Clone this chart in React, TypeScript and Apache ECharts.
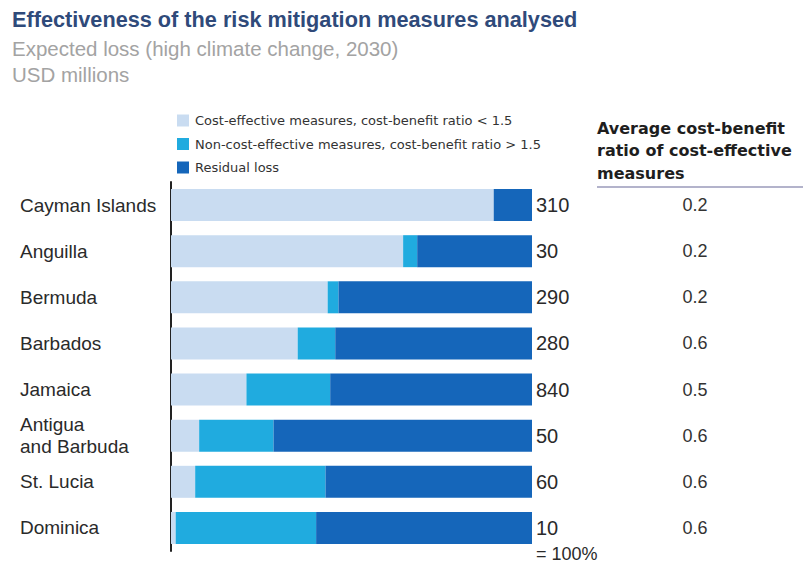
import React, { useEffect, useRef } from "react";
import * as echarts from "echarts";

const countries = ["Cayman Islands", "Anguilla", "Bermuda", "Barbados", "Jamaica", "Antigua\nand Barbuda", "St. Lucia", "Dominica"];
const costEffective = [89.4, 64.3, 43.4, 35.1, 20.9, 7.8, 6.7, 1.3];
const nonCostEffective = [0, 3.9, 3.0, 10.4, 23.2, 20.6, 36.1, 38.9];
const residualLoss = [10.6, 31.8, 53.6, 54.5, 55.9, 71.6, 57.2, 59.8];
const totals = ["310", "30", "290", "280", "840", "50", "60", "10"];
const avgRatio = ["0.2", "0.2", "0.2", "0.6", "0.5", "0.6", "0.6", "0.6"];
const seriesNames = [
  "Cost-effective measures, cost-benefit ratio < 1.5",
  "Non-cost-effective measures, cost-benefit ratio > 1.5",
  "Residual loss",
];

const FONT = "'Liberation Sans', Arial, sans-serif";
const WIDE = "'DejaVu Sans', Verdana, sans-serif";
const LIGHT = "#c9dcf1";
const CYAN = "#20abdf";
const DARK = "#1566ba";

export default function App() {
  const ref = useRef<HTMLDivElement>(null);
  useEffect(() => {
    if (!ref.current) return;
    const chart = echarts.init(ref.current, undefined, { renderer: "svg" });
    chart.setOption({
      animation: false,
      backgroundColor: "#ffffff",
      textStyle: { fontFamily: FONT },
      title: {
        text: "Effectiveness of the risk mitigation measures analysed",
        subtext: "Expected loss (high climate change, 2030)\nUSD millions",
        left: 7,
        top: 3,
        itemGap: 5,
        textStyle: { fontFamily: FONT, fontSize: 21.7, fontWeight: "bold", color: "#2f4a7a" },
        subtextStyle: { fontFamily: FONT, fontSize: 20.5, color: "#a3a3a3", lineHeight: 26 },
      },
      legend: {
        orient: "vertical",
        left: 172,
        top: 109,
        itemWidth: 12,
        itemHeight: 12,
        itemGap: 10.5,
        icon: "rect",
        selectedMode: false,
        data: seriesNames,
        textStyle: { fontFamily: WIDE, fontSize: 13, color: "#333333", padding: [0, 0, 0, 1] },
      },
      grid: { left: 171, right: 273, top: 182, bottom: 14, containLabel: false },
      xAxis: { type: "value", min: 0, max: 100, show: false },
      yAxis: [
        {
          type: "category",
          data: countries,
          inverse: true,
          axisLine: { show: true, lineStyle: { color: "#222222", width: 2 } },
          axisTick: { show: false },
          axisLabel: {
            align: "left",
            margin: 151,
            fontFamily: FONT,
            fontSize: 19,
            color: "#2a2a2a",
            lineHeight: 22,
          },
        },
        {
          type: "category",
          data: countries,
          inverse: true,
          position: "right",
          axisLine: { show: false },
          axisTick: { show: false },
          axisLabel: {
            align: "center",
            margin: 163,
            fontFamily: FONT,
            fontSize: 18,
            color: "#333333",
            formatter: (_v: string, i: number) => avgRatio[i],
          },
        },
      ],
      series: [
        { name: seriesNames[0], type: "bar", stack: "t", data: costEffective, barWidth: 32, itemStyle: { color: LIGHT } },
        { name: seriesNames[1], type: "bar", stack: "t", data: nonCostEffective, barWidth: 32, itemStyle: { color: CYAN } },
        {
          name: seriesNames[2],
          type: "bar",
          stack: "t",
          data: residualLoss,
          barWidth: 32,
          itemStyle: { color: DARK },
          label: {
            show: true,
            position: "right",
            distance: 4,
            fontFamily: FONT,
            fontSize: 20,
            color: "#2a2a2a",
            formatter: (p: any) => totals[p.dataIndex],
          },
        },
      ],
      graphic: [
        {
          type: "text",
          left: 597,
          top: 117,
          style: {
            text: "Average cost-benefit\nratio of cost-effective\nmeasures",
            font: `bold 16px ${WIDE}`,
            fill: "#1e1e1e",
            lineHeight: 22.5,
          },
        },
        {
          type: "line",
          shape: { x1: 597, y1: 187, x2: 803, y2: 187 },
          style: { stroke: "#b3b3cb", lineWidth: 2 },
        },
        {
          type: "text",
          left: 536,
          top: 545,
          style: { text: "= 100%", font: `18px ${FONT}`, fill: "#2a2a2a" },
        },
      ],
    });
    return () => chart.dispose();
  }, []);
  return <div ref={ref} style={{ position: "fixed", left: 0, top: 0, width: 805, height: 565 }} />;
}
